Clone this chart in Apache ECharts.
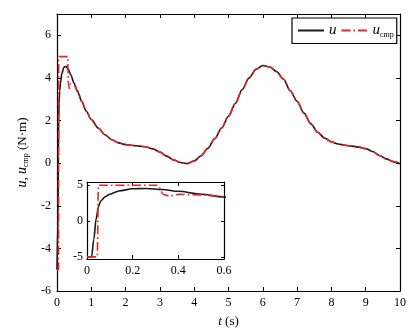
<!DOCTYPE html>
<html>
<head>
<meta charset="utf-8">
<script src="https://cdn.jsdelivr.net/npm/echarts@6.0.0/dist/echarts.min.js"></script>
<style>
  html, body { margin: 0; padding: 0; background: #fff; }
  #chart { width: 419px; height: 334px; }
</style>
</head>
<body>
<div id="chart"></div>
<script>
// u (black)
var tU = [0, 0.02, 0.03, 0.04, 0.05, 0.06, 0.08, 0.1, 0.14, 0.2, 0.26, 0.33, 0.4, 0.5, 0.6, 0.72, 0.85, 1.0, 1.2, 1.4, 1.6, 1.8, 2.0, 2.2, 2.4, 2.6, 2.8, 3.0, 3.2, 3.4, 3.6, 3.8, 4.0, 4.2, 4.4, 4.6, 4.8, 5.0, 5.2, 5.4, 5.6, 5.8, 6.0, 6.2, 6.4, 6.6, 6.8, 7.0, 7.2, 7.4, 7.6, 7.8, 8.0, 8.2, 8.4, 8.6, 8.8, 9.0, 9.2, 9.4, 9.6, 9.8, 10];
var uVals = [-5, -5, -2.5, 0.3, 2.0, 2.8, 3.4, 3.75, 4.2, 4.5, 4.55, 4.4, 4.15, 3.75, 3.35, 2.9, 2.45, 2.05, 1.65, 1.33, 1.1, 0.95, 0.87, 0.83, 0.8, 0.76, 0.67, 0.52, 0.33, 0.15, 0.03, -0.02, 0.1, 0.35, 0.7, 1.15, 1.65, 2.2, 2.8, 3.45, 4.0, 4.4, 4.58, 4.52, 4.3, 3.95, 3.4, 2.9, 2.35, 1.85, 1.45, 1.18, 1.0, 0.9, 0.84, 0.8, 0.75, 0.68, 0.55, 0.36, 0.2, 0.07, -0.03];
// u_cmp (red dash-dot): saturated start, then follows u
var tCmp = [0, 0.045, 0.05, 0.31, 0.335, 0.36, 0.4, 0.5, 0.6, 0.72, 0.85, 1.0, 1.2, 1.4, 1.6, 1.8, 2.0, 2.2, 2.4, 2.6, 2.8, 3.0, 3.2, 3.4, 3.6, 3.8, 4.0, 4.2, 4.4, 4.6, 4.8, 5.0, 5.2, 5.4, 5.6, 5.8, 6.0, 6.2, 6.4, 6.6, 6.8, 7.0, 7.2, 7.4, 7.6, 7.8, 8.0, 8.2, 8.4, 8.6, 8.8, 9.0, 9.2, 9.4, 9.6, 9.8, 10];
var cmpVals = [-5, -5, 5, 5, 3.7, 3.5, 3.72, 3.65, 3.4, 2.9, 2.45, 2.05, 1.65, 1.33, 1.1, 0.95, 0.87, 0.83, 0.8, 0.76, 0.67, 0.52, 0.33, 0.15, 0.03, -0.02, 0.1, 0.35, 0.7, 1.15, 1.65, 2.2, 2.8, 3.45, 4.0, 4.4, 4.58, 4.52, 4.3, 3.95, 3.4, 2.9, 2.35, 1.85, 1.45, 1.18, 1.0, 0.9, 0.84, 0.8, 0.75, 0.68, 0.55, 0.36, 0.2, 0.07, -0.03];

var xTicksMain = [0, 10, 1];
var yTicksMain = [-6, 7, 2];
var insetX = [0, 0.6, 0.2];
var insetYTicks = [-5, 0, 5];

function pairs(t, v) {
    return t.map(function (x, i) { return [x, v[i]]; });
}

var font = 'Liberation Serif';
var black = '#000';
var red = '#e8232a';
var dashDot = [9, 3, 1.5, 3];

var myChart = echarts.init(document.getElementById('chart'));

function boxAxis(grid, min, max, interval, pos, labels, extra) {
    var a = {
        gridIndex: grid,
        type: 'value',
        position: pos,
        min: min,
        max: max,
        interval: interval,
        axisLine: { show: true, onZero: false, lineStyle: { color: black, width: 1.2 } },
        axisTick: { show: true, inside: true, length: 4, lineStyle: { color: black } },
        axisLabel: { show: labels, color: black, fontFamily: font, fontSize: 12, margin: 6 },
        splitLine: { show: false }
    };
    return Object.assign(a, extra || {});
}

var option = {
    backgroundColor: '#fff',
    animation: false,
    grid: [
        { left: 57, top: 14, right: 19, bottom: 43, show: true, borderColor: black, borderWidth: 0 },
        { left: 87, top: 182, width: 137, height: 77, show: true, backgroundColor: '#fff', borderWidth: 0, z: 5 }
    ],
    legend: {
        left: 292, top: 18,
        padding: [5, 3, 5, 5],
        itemGap: 4,
        itemWidth: 26,
        itemHeight: 12,
        borderColor: black,
        borderWidth: 1.2,
        backgroundColor: '#fff',
        itemStyle: { color: 'rgba(0,0,0,0)', borderWidth: 0, opacity: 0 },
        data: ['u', 'ucmp'],
        formatter: function (n) { return n === 'u' ? '{i|u}' : '{i|u}{s|cmp}'; },
        textStyle: {
            color: black,
            rich: {
                i: { fontFamily: font, fontStyle: 'italic', fontSize: 15, color: black },
                s: { fontFamily: font, fontSize: 8, color: black, padding: [8, 0, 0, 0] }
            }
        }
    },
    xAxis: [
        boxAxis(0, xTicksMain[0], xTicksMain[1], xTicksMain[2], 'bottom', true, {
            name: '{i|t} (s)', nameLocation: 'middle', nameGap: 24,
            nameTextStyle: { fontFamily: font, fontSize: 13, color: black,
                rich: { i: { fontFamily: font, fontStyle: 'italic', fontSize: 13, color: black } } }
        }),
        boxAxis(0, xTicksMain[0], xTicksMain[1], xTicksMain[2], 'top', false),
        boxAxis(1, insetX[0], insetX[1], insetX[2], 'bottom', true, { z: 6 }),
        boxAxis(1, insetX[0], insetX[1], insetX[2], 'top', false, { z: 6 })
    ],
    yAxis: [
        boxAxis(0, yTicksMain[0], yTicksMain[1], yTicksMain[2], 'left', true, {
            axisLabel: { color: black, fontFamily: font, fontSize: 12, margin: 6, showMaxLabel: false },
            name: '{i|u}, {i|u}{s|cmp} (N·m)', nameLocation: 'middle', nameGap: 27, nameRotate: 90,
            nameTextStyle: { fontFamily: font, fontSize: 13, color: black,
                rich: {
                    i: { fontFamily: font, fontStyle: 'italic', fontSize: 14, color: black },
                    s: { fontFamily: font, fontSize: 8, color: black, padding: [7, 0, 0, 0] }
                } }
        }),
        boxAxis(0, yTicksMain[0], yTicksMain[1], yTicksMain[2], 'right', false),
        {
            gridIndex: 1, type: 'value', position: 'left', min: -5.3, max: 5.45, z: 6,
            axisLine: { show: true, onZero: false, lineStyle: { color: black, width: 1.2 } },
            axisTick: { show: true, inside: true, length: 3, customValues: insetYTicks, lineStyle: { color: black } },
            axisLabel: { color: black, fontFamily: font, fontSize: 12, margin: 4, customValues: insetYTicks },
            splitLine: { show: false }
        },
        {
            gridIndex: 1, type: 'value', position: 'right', min: -5.3, max: 5.45, z: 6,
            axisLine: { show: true, onZero: false, lineStyle: { color: black, width: 1.2 } },
            axisTick: { show: true, inside: true, length: 3, customValues: insetYTicks, lineStyle: { color: black } },
            axisLabel: { show: false },
            splitLine: { show: false }
        }
    ],
    series: [
        {
            name: 'u', type: 'line', xAxisIndex: 0, yAxisIndex: 0,
            data: pairs(tU, uVals), showSymbol: false, symbol: 'none',
            smooth: 0.3, smoothMonotone: 'x',
            lineStyle: { color: '#1a1a1a', width: 1.6 }, itemStyle: { color: '#1a1a1a' }, z: 2
        },
        {
            name: 'ucmp', type: 'line', xAxisIndex: 0, yAxisIndex: 0,
            data: pairs(tCmp, cmpVals), showSymbol: false, symbol: 'none',
            smooth: 0.3, smoothMonotone: 'x',
            lineStyle: { color: red, width: 1.6, type: dashDot }, itemStyle: { color: red }, z: 3
        },
        {
            name: 'u', type: 'line', xAxisIndex: 2, yAxisIndex: 2,
            data: pairs(tU, uVals), showSymbol: false, symbol: 'none',
            smooth: 0.3, smoothMonotone: 'x', clip: true,
            lineStyle: { color: '#1a1a1a', width: 1.6 }, z: 7
        },
        {
            name: 'ucmp', type: 'line', xAxisIndex: 2, yAxisIndex: 2,
            data: pairs(tCmp, cmpVals), showSymbol: false, symbol: 'none',
            smooth: 0.3, smoothMonotone: 'x', clip: true,
            lineStyle: { color: red, width: 1.6, type: dashDot }, z: 8
        }
    ]
};

myChart.setOption(option);
</script>
</body>
</html>
